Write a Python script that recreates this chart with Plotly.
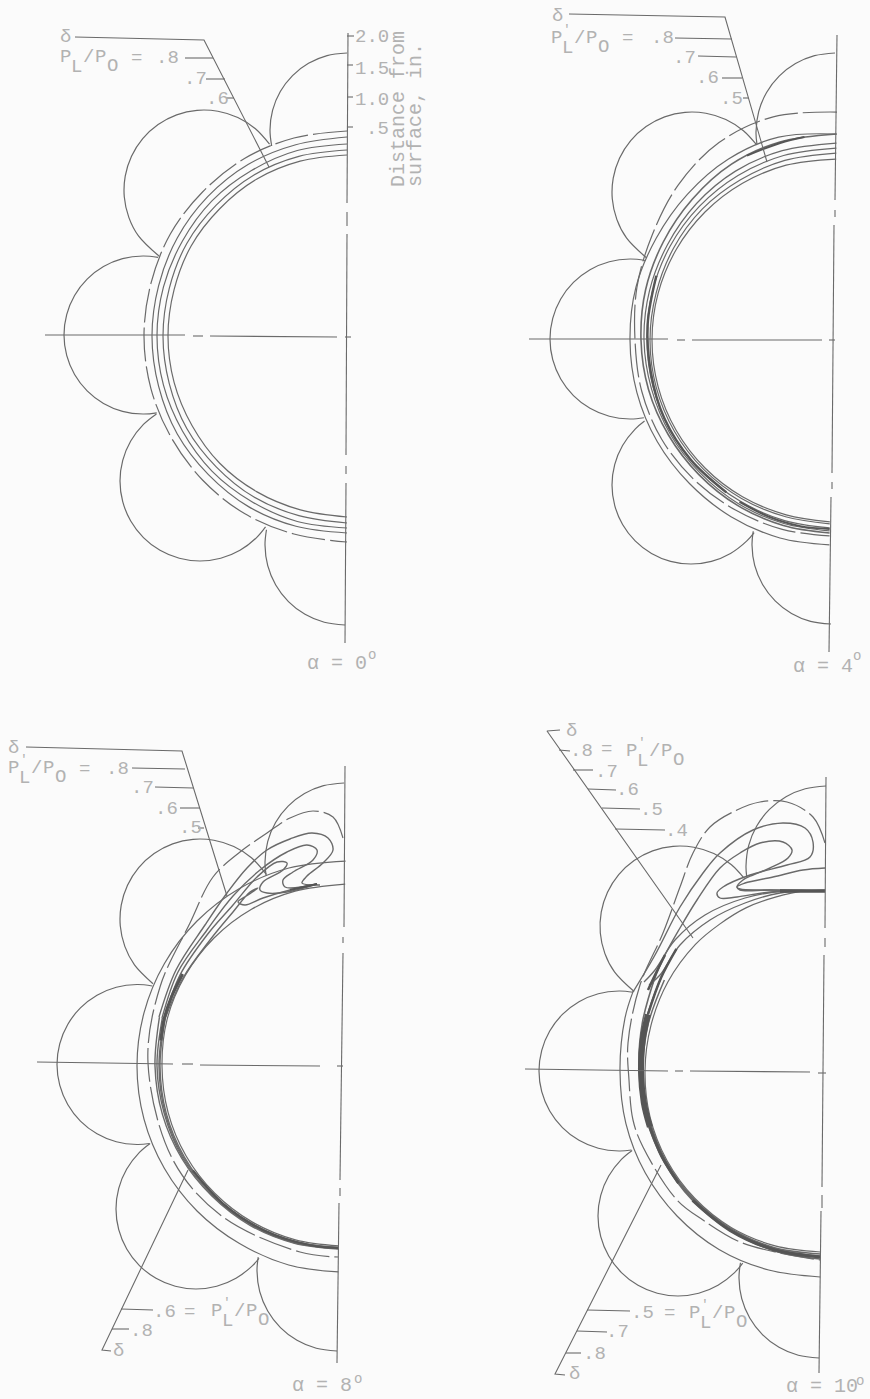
import math
import plotly.graph_objects as go

# ---- figure canvas scale (pixels of the scanned sheet) ----
WIDTH, HEIGHT = 870, 1399
INK, HEAVY, TEXT_INK, PAPER = "#6a6a6a", "#555555", "#b2b2b2", "#fbfbfb"

# ---- polar angle around each body, 0 = top of body, 180 = bottom ----
ANGLES_A = [0, 15, 30, 45, 60, 75, 90, 105, 120, 135, 150, 165, 180]
ANGLES_B = [-1, 15, 30, 45, 60, 75, 90, 105, 120, 135, 150, 165, 179]
LOWER_C = [75, 90, 105, 120, 135, 150, 165, 179]
LOWER_D = [60, 75, 90, 105, 120, 135, 150, 165, 179.5]
CENTER_A, CENTER_B, CENTER_C, CENTER_D = (347, 336), (833, 340), (342, 1066), (822, 1071)

# ---- alpha = 0 : contour radius from body centre ----
A_R1 = [181, 181, 181, 180, 180, 179, 179, 179, 179, 180, 180, 180, 181]
A_R2 = [186, 186, 186, 185, 185, 184, 184, 184, 185, 185, 186, 186, 187]
A_R3 = [192, 192, 191, 191, 190, 190, 190, 190, 190, 191, 191, 192, 192]
A_R4 = [199, 198, 198, 197, 196, 195, 195, 195, 196, 196, 197, 197, 197]
A_DELTA = [205, 205, 205, 204, 204, 203, 203, 203, 203, 204, 205, 205, 206]

# ---- alpha = 4 ----
B_R1 = [181, 181, 181, 181, 181, 181, 181, 181, 181, 181, 181, 181, 182]
B_R2 = [187, 186, 185, 185, 184, 183, 183, 183, 183, 183, 183, 183, 184]
B_R3 = [192, 191, 190, 189, 188, 187, 186, 186, 186, 186, 186, 187, 188]
B_R4 = [197, 196, 195, 193, 191, 190, 189, 188, 188, 188, 189, 190, 191]
B_R5 = [206, 205, 203, 199, 196, 194, 192, 191, 190, 190, 191, 192, 193]
B_OUT = [206, 210, 209, 206, 204, 204, 203, 203, 203, 203, 204, 205, 205]
B_DELTA = [228, 231, 228, 219, 209, 203, 198, 198, 198, 197, 196, 196, 196]

# ---- alpha = 8 ----
C_OUT = [205, 205, 205, 205, 205, 205, 205, 205, 205, 205, 205, 206, 206]
C_INNER = [182, 181, 181, 181, 181, 181, 180, 180, 180, 180, 180, 180, 180]
C_L1 = [189, 187, 186, 185, 184, 184, 183.5, 183]
C_L2 = [186, 185, 184, 184, 183, 183, 183, 182.5]
C_L3 = [184, 183, 183, 183, 182, 182, 182, 182]
C_L4 = [183, 182, 182, 182, 182, 181.5, 181.5, 181.5]
C_LOOP1 = [(159, 1017), (176, 970), (205, 925), (227, 893), (247, 868), (267, 850), (290, 839), (312, 833),
           (328, 838), (333, 850), (323, 863), (307, 876), (302, 883), (320, 885)]
C_LOOP2 = [(162, 1018), (178, 972), (207, 930), (233, 896), (260, 870), (287, 852), (307, 845), (317, 850),
           (313, 860), (293, 872), (283, 880), (285, 887), (317, 884)]
C_LOOP3 = [(164, 1018), (180, 975), (207, 935), (233, 905), (257, 877), (277, 862), (287, 863), (283, 870),
           (263, 882), (260, 890), (267, 893), (287, 892), (317, 884)]
C_LOOP4 = [(165, 1019), (183, 978), (210, 940), (233, 912), (250, 892), (258, 888), (248, 895), (238, 902),
           (245, 905), (263, 898), (290, 890), (317, 884)]
C_DELTA = [(343, 838), (333, 817), (313, 811), (290, 818), (267, 833), (240, 852), (213, 877), (190, 923),
           (160, 987), (148, 1063), (173, 1160), (223, 1217), (300, 1252), (338, 1257)]

# ---- alpha = 10 ----
D_INNER_ANGLES = [-1, 5, 15, 25, 35, 45, 60, 75, 90, 105, 120, 135, 150, 165, 179.5]
D_INNER = [181, 181, 180, 180, 179, 179, 178, 177, 177, 178, 179, 180, 181, 181, 181]
D_K2 = [182, 180, 179, 179, 180, 181, 182, 183, 183]
D_K3 = [186, 183, 181, 180, 181, 182, 183, 184, 185]
D_K4 = [192, 186, 183, 182, 182, 183, 184, 186, 188]
D_OUT_ANGLES = [67, 75, 90, 105, 120, 135, 150, 165, 179.5]
D_OUT = [205, 204, 202, 203, 204, 205, 206, 206, 206]
D_UP2 = [(825, 891), (780, 893), (745, 903), (710, 920), (680, 945), (660, 975), (649, 985)]
D_UP3 = [(825, 891), (785, 891), (745, 898), (705, 915), (675, 940), (655, 970), (644, 982)]
D_LOOP_A = [(633, 992), (655, 955), (680, 907), (703, 873), (720, 853), (753, 830), (783, 823), (805, 828),
            (813, 842), (810, 857), (787, 865), (750, 875), (723, 887), (717, 893), (720, 898), (737, 897),
            (770, 892), (825, 891)]
D_LOOP_B = [(652, 985), (665, 955), (680, 928), (697, 900), (720, 868), (740, 853), (760, 843),
            (783, 842), (792, 850), (788, 858), (770, 868), (753, 875), (743, 880), (737, 887), (740, 889),
            (770, 890), (825, 891)]
D_FINGER = [(825, 868), (803, 870), (773, 877), (745, 883), (737, 887), (740, 890), (770, 890), (825, 891)]
D_DELTA = [(825, 843), (813, 817), (787, 802), (760, 802), (737, 810), (710, 827), (693, 853), (680, 887),
           (663, 933), (640, 985), (628, 1043), (629, 1080), (633, 1120), (643, 1147), (677, 1200), (703, 1220),
           (740, 1242), (780, 1253), (820, 1260)]

# ---- darkened bundles where contours pile up: (angles, radii, width) ----
HEAVY_B = [([70, 85, 100, 115, 130, 145], [188, 186, 185, 186, 186, 186], 2.4),
           ([8, 15, 25], [205, 204, 203.5], 2.0), ([150, 160, 170, 179], [187, 188, 189, 189], 2.0)]
HEAVY_C = [([60, 68, 75, 82], [184, 184, 184, 183], 3.0), ([125, 140, 155, 170, 179], [182, 182, 182, 182, 182], 2.2)]
HEAVY_D = [([50, 60, 72], [190, 186, 183], 2.5), ([72, 80, 90, 100, 108], [183, 182, 181, 181, 181], 6.0),
           ([108, 118, 128], [181, 181.5, 182], 3.0), ([135, 150, 165, 179.5], [183, 184, 185, 186], 3.0)]
BAR_C = [(290, 890), (317, 884)]
BAR_D = [(780, 891), (800, 891), (825, 891)]
RIDGE_D = [(665, 955), (655, 975), (648, 990)]

# ---- separation lobes: (centre, radius, angles swept) ----
A_LOBES = [
    ((347, 130), 77, [0, 15, 30, 45, 60, 75, 90, 102]),
    ((204, 190), 80, [-55, -40, -25, -10, 5, 20, 35, 50, 65, 80, 95, 110, 125, 146]),
    ((143, 335), 79, [-11, 0, 15, 30, 45, 60, 75, 90, 105, 120, 135, 150, 165, 180, 190]),
    ((200, 481), 80, [33, 45, 60, 75, 90, 105, 120, 135, 150, 165, 180, 195, 210, 225, 235]),
    ((345, 545), 80, [79, 90, 105, 120, 135, 150, 165, 180]),
]
B_LOBES = [
    ((835, 132), 79, [0, 15, 30, 45, 60, 75, 90, 99]),
    ((692, 192), 80, [-54, -40, -25, -10, 5, 20, 35, 50, 65, 80, 95, 110, 125, 145]),
    ((630, 339), 80, [-11, 0, 15, 30, 45, 60, 75, 90, 105, 120, 135, 150, 165, 180, 190]),
    ((691, 485), 79, [36, 45, 60, 75, 90, 105, 120, 135, 150, 165, 180, 195, 210, 225, 233]),
    ((831, 545), 79, [80, 90, 105, 120, 135, 150, 165, 180]),
]
C_LOBES = [
    ((344, 862), 79, [0, 15, 30, 45, 60, 75, 90, 100]),
    ((200, 919), 80, [-56, -40, -25, -10, 5, 20, 35, 50, 65, 80, 95, 110, 125, 144]),
    ((137, 1064.5), 80, [-11, 0, 15, 30, 45, 60, 75, 90, 105, 120, 135, 150, 165, 180, 189]),
    ((196, 1209), 80, [35, 45, 60, 75, 90, 105, 120, 135, 150, 165, 180, 195, 210, 225, 232]),
    ((337, 1271), 80, [80, 90, 105, 120, 135, 150, 165, 180]),
]
D_LOBES = [
    ((826, 866), 80, [0, 15, 30, 45, 60, 75, 90, 98]),
    ((680, 926), 80, [-53, -40, -25, -10, 5, 20, 35, 50, 65, 80, 95, 110, 125, 145]),
    ((619, 1071), 80, [-10, 0, 15, 30, 45, 60, 75, 90, 105, 120, 135, 150, 165, 180, 189]),
    ((678, 1216), 80, [35, 45, 60, 75, 90, 105, 120, 135, 150, 165, 180, 195, 210, 225, 234]),
    ((819, 1278), 80, [79, 90, 105, 120, 135, 150, 165, 180]),
]

# ---- straight work: axes, centre lines, leaders ----
STRAIGHT = [
    # alpha 0
    [(348, 33), (347, 203)], [(347, 212), (347, 226)], [(347, 234), (346, 455)], [(346, 466), (346, 474)],
    [(346, 483), (345, 643)],
    [(45, 335), (185, 335)], [(193, 336), (203, 336)], [(210, 336), (337, 337)], [(345, 337), (351, 337)],
    [(347, 36), (354, 36)], [(347, 65), (353, 65)], [(347, 97), (353, 97)], [(347, 127), (353, 127)],
    [(75, 37), (204, 40), (269, 167)], [(185, 58), (213, 58)], [(206, 79), (225, 79)], [(226, 98), (234, 98)],
    # alpha 4
    [(837, 35), (835, 200)], [(835, 210), (835, 217)], [(834, 225), (832, 473)], [(832, 482), (832, 489)],
    [(831, 497), (829, 652)],
    [(529, 339), (668, 339)], [(677, 340), (685, 340)], [(692, 340), (822, 340)], [(829, 340), (835, 340)],
    [(569, 14), (725, 17), (767, 162)], [(675, 38), (732, 39)], [(698, 56), (736, 57)], [(722, 78), (742, 78)],
    [(743, 98), (748, 98)],
    # alpha 8
    [(345, 766), (344, 927)], [(343, 937), (343, 943)], [(343, 953), (340, 1180)], [(340, 1188), (340, 1196)],
    [(339, 1203), (337, 1363)],
    [(37, 1062), (173, 1064)], [(182, 1064), (193, 1064)], [(200, 1065), (320, 1066)], [(337, 1066), (343, 1066)],
    [(26, 747), (182, 751), (227, 896)], [(132, 768), (185, 769)], [(155, 787), (193, 788)],
    [(180, 808), (200, 808)], [(198, 828), (204, 828)],
    [(188, 1170), (102, 1350), (111, 1351)], [(112, 1329), (129, 1329)], [(121, 1309), (153, 1310)],
    # alpha 10
    [(826, 777), (825, 928)], [(825, 938), (825, 947)], [(824, 955), (822, 1187)], [(822, 1195), (822, 1208)],
    [(821, 1211), (819, 1373)],
    [(525, 1069), (668, 1071)], [(675, 1071), (683, 1071)], [(690, 1071), (810, 1072)], [(818, 1073), (826, 1073)],
    [(560, 730), (547, 731), (693, 938)], [(559, 750), (570, 751)], [(573, 770), (593, 770)],
    [(588, 789), (616, 790)], [(602, 808), (640, 809)], [(615, 829), (665, 830)],
    [(661, 1165), (555, 1374), (565, 1375)], [(566, 1353), (581, 1353)], [(577, 1331), (607, 1332)],
    [(587, 1310), (630, 1311)],
]

# ---- lettering: text, left x, mid y ----
LABELS = [
    ("δ", 60, 37), ("=", 131, 58), (".8", 156, 58), (".7", 184, 79), (".6", 206, 99),
    ("2.0", 355, 37), ("1.5", 355, 69), ("1.0", 355, 100), (".5", 366, 129),
    ("δ", 552, 16), ("=", 622, 38), (".8", 651, 38), (".7", 673, 58), (".6", 696, 78), (".5", 720, 99),
    ("δ", 8, 748), ("=", 79, 769), (".8", 106, 769), (".7", 131, 788), (".6", 155, 809), (".5", 179, 828),
    (".6", 153, 1312), ("=", 184, 1312), (".8", 130, 1331), ("δ", 113, 1351),
    ("δ", 566, 731), (".8", 570, 751), ("=", 601, 749), (".7", 595, 772), (".6", 616, 790), (".5", 640, 810),
    (".4", 665, 831),
    (".5", 631, 1313), ("=", 664, 1313), (".7", 606, 1332), (".8", 583, 1354), ("δ", 569, 1374),
]
# pressure ratio symbol: left x of the first P, mid y, whether primed
RATIOS = [(60, 57, False), (551, 38, True), (8, 768, True), (211, 1311, True), (626, 751, True), (689, 1313, True)]
RATIO_PARTS = [("P", 0, 0), ("L", 11, 10), ("/", 23, 0), ("P", 35, 0), ("O", 47, 9)]
ALPHAS = [("α = 0", 307, 663, 368, 655), ("α = 4", 793, 666, 853, 656),
          ("α = 8", 292, 1385, 354, 1379), ("α = 10", 786, 1386, 856, 1381)]
ROTATED = [("Distance from", 398, 109), ("surface, in.", 415, 115)]


def polar(center, angles, radii):
    pts = []
    for a, r in zip(angles, radii):
        t = math.radians(a)
        pts.append((center[0] - r * math.sin(t), center[1] - r * math.cos(t)))
    return pts


fig = go.Figure()


def draw(points, width=1.2, dash="solid", smooth=True, color=INK):
    fig.add_trace(go.Scatter(
        x=[p[0] for p in points], y=[p[1] for p in points], mode="lines", hoverinfo="skip",
        line=dict(color=color, width=width, dash=dash, shape="spline" if smooth else "linear", smoothing=1.0),
    ))


DASH = "34px,5px"
for r in (A_R1, A_R2, A_R3, A_R4):
    draw(polar(CENTER_A, ANGLES_A, r))
draw(polar(CENTER_A, ANGLES_A, A_DELTA), dash=DASH)

for r in (B_R1, B_R2, B_R3, B_R4, B_OUT):
    draw(polar(CENTER_B, ANGLES_B, r))
draw(polar(CENTER_B, ANGLES_B, B_R5), width=1.6)
draw(polar(CENTER_B, ANGLES_B, B_DELTA), dash=DASH)

draw(polar(CENTER_C, ANGLES_B, C_OUT))
draw(polar(CENTER_C, ANGLES_B, C_INNER))
for loop in (C_LOOP1, C_LOOP2, C_LOOP3, C_LOOP4):
    draw(loop, width=1.4)
for r in (C_L1, C_L2, C_L3, C_L4):
    draw(polar(CENTER_C, LOWER_C, r), width=1.4)
draw(C_DELTA, dash=DASH)

draw(polar(CENTER_D, D_INNER_ANGLES, D_INNER))
draw(D_UP2, width=1.3)
draw(D_UP3, width=1.3)
draw(polar(CENTER_D, LOWER_D, D_K2), width=1.5)
draw(polar(CENTER_D, LOWER_D, D_K3), width=1.6)
draw(polar(CENTER_D, LOWER_D, D_K4), width=1.6)
draw(polar(CENTER_D, D_OUT_ANGLES, D_OUT))
draw(D_LOOP_A, width=1.4)
draw(D_LOOP_B, width=1.4)
draw(D_FINGER, width=1.4)
draw(D_DELTA, dash=DASH)

for center, bundle in ((CENTER_B, HEAVY_B), (CENTER_C, HEAVY_C), (CENTER_D, HEAVY_D)):
    for angles, radii, w in bundle:
        draw(polar(center, angles, radii), width=w, color=HEAVY)
draw(BAR_C, width=2.2, color=HEAVY)
draw(BAR_D, width=3.5, color=HEAVY)
draw(RIDGE_D, width=2.5, color=HEAVY)

for lobes in (A_LOBES, B_LOBES, C_LOBES, D_LOBES):
    for center, radius, angles in lobes:
        draw(polar(center, angles, [radius] * len(angles)))

for seg in STRAIGHT:
    draw(seg, width=1.1, smooth=False)

font = dict(family="Liberation Mono", size=19, color=TEXT_INK)


def put(text, x, y, f=font):
    fig.add_annotation(x=x, y=y, text=text, xanchor="left", yanchor="middle", showarrow=False, font=f,
                       borderpad=0, borderwidth=0)


for text, x, y in LABELS:
    put(text, x, y)
for x0, y0, primed in RATIOS:
    for ch, dx, dy in RATIO_PARTS:
        put(ch, x0 + dx, y0 + dy)
    if primed:
        put("'", x0 + 12, y0 - 9, dict(family="Liberation Mono", size=13, color=TEXT_INK))
for text, x, y in ROTATED:
    fig.add_annotation(x=x, y=y, text=text, textangle=-90, showarrow=False,
                       font=dict(family="Liberation Mono", size=20, color=TEXT_INK))
for text, x, y, dx, dy in ALPHAS:
    put(text, x, y, dict(family="Liberation Mono", size=20, color=TEXT_INK))
    put("o", dx, dy, dict(family="Liberation Mono", size=14, color=TEXT_INK))

fig.update_layout(
    width=WIDTH, height=HEIGHT, margin=dict(l=0, r=0, t=0, b=0), showlegend=False,
    paper_bgcolor=PAPER, plot_bgcolor=PAPER,
    xaxis=dict(range=[0, WIDTH], visible=False, fixedrange=True),
    yaxis=dict(range=[HEIGHT, 0], visible=False, fixedrange=True),
)
fig.write_html("out.html", config=dict(displayModeBar=False),
               post_script="document.body.style.margin='0';document.body.style.background='#fbfbfb';")
